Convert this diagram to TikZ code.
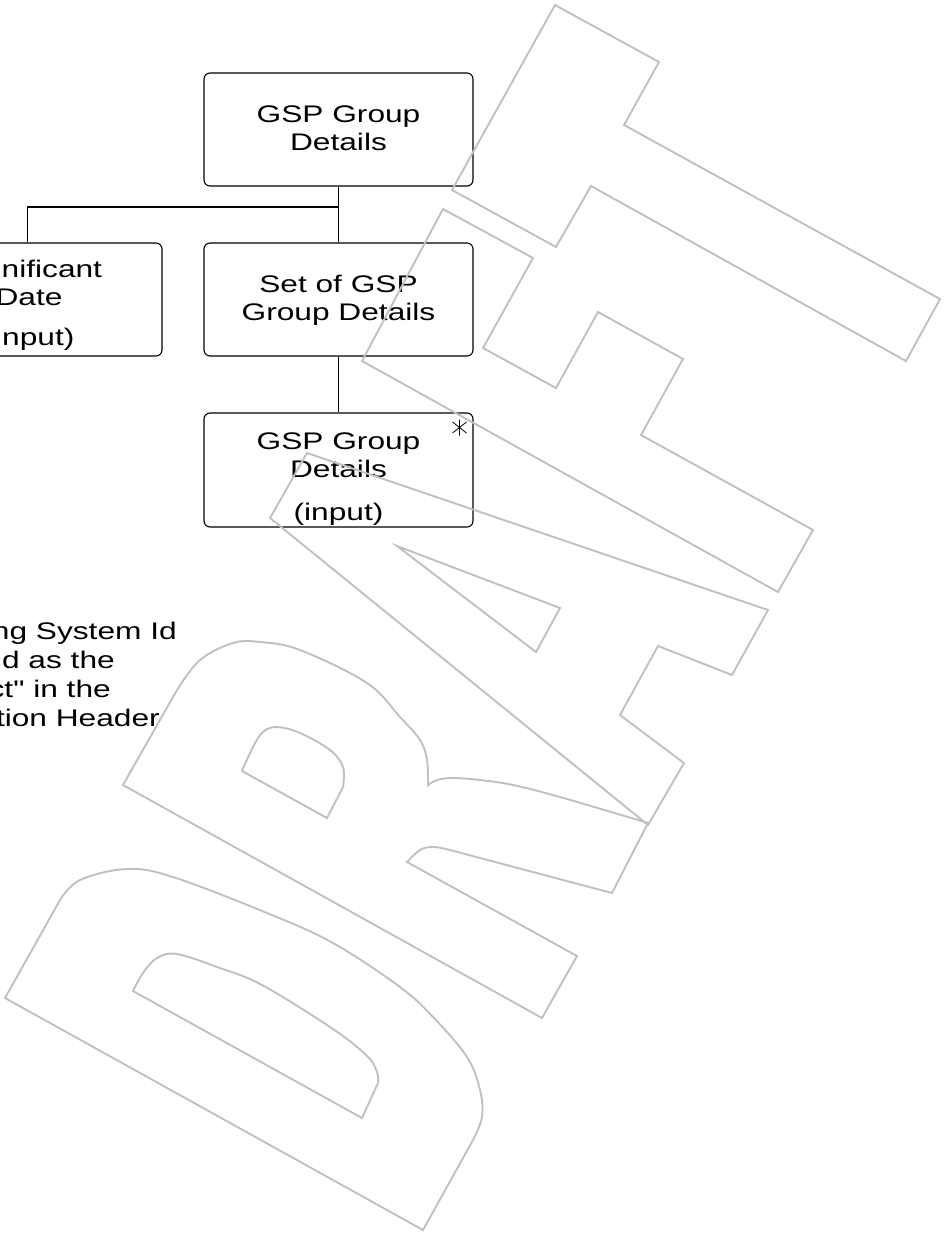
\documentclass[tikz,border=0pt]{standalone}
\usepackage{fontspec}
\setmainfont{Liberation Sans}[Ligatures=TeXOff]
\usepackage{graphicx}
\definecolor{wm}{RGB}{192,192,192}
\newcommand{\hs}[1]{\scalebox{1.32}[1]{#1}}
\newcommand{\txtblock}[1]{\hs{\begin{tabular}[t]{@{}c@{}}#1\end{tabular}}}
\begin{document}
\begin{tikzpicture}[x=1pt,y=-1pt,
  box/.style={draw, line width=1.1pt, rounded corners=6pt, minimum width=269pt, minimum height=113pt, inner sep=0pt},
  lbl/.style={anchor=base, inner sep=0pt, font=\fontsize{24}{28.5}\selectfont},
  notel/.style={anchor=base east, inner sep=0pt, font=\fontsize{24}{29}\selectfont},
  conn/.style={line width=1.1pt},
  wmark/.style={draw=wm, line width=1.9pt, line join=miter}]
\useasboundingbox (0,0) rectangle (943,1237);
\clip (0,0) rectangle (943,1237);
% boxes
\node[box] (top) at (338.5,129.5) {};
\node[box] (set) at (338.5,299.5) {};
\node[box] (left) at (27.5,299.5) {};
\node[box, minimum height=114pt] (bot) at (338.5,470) {};
% texts
\node[lbl] (topt) at (338.5,122) {\txtblock{GSP Group\\Details}};
\node[lbl] (sett) at (338.5,292) {\txtblock{Set of GSP\\Group Details}};
\node[lbl] (leftt) at (29,277) {\txtblock{Significant\\Date}};
\node[lbl] (lefti) at (29.5,345) {\hs{(input)}};
\node[lbl] (bott) at (338.5,449) {\txtblock{GSP Group\\Details}};
\node[lbl] (boti) at (338.5,520) {\hs{(input)}};
% note
\node[notel] (note1) at (177,639) {\hs{ng System Id}};
\node[notel] (note2) at (115,668) {\hs{d as the}};
\node[notel] (note3) at (111,697) {\hs{ct" in the}};
\node[notel] (note4) at (160,726) {\hs{tion Header}};
% connectors
\coordinate (j) at (338.5,207);
\draw[conn] (top.south) -- (set.north);
\draw[conn] (j) -| (left.north);
\draw[conn] (set.south) -- (bot.north);
% asterisk
\coordinate (ast) at (459.5,427.5);
\draw[line width=0.8pt] (ast) ++(0,-8) -- ++(0,16)
  (ast) ++(-7,-5.5) -- ++(14,11)
  (ast) ++(-7,5.5) -- ++(14,-11);
% watermark DRAFT
\draw[wmark] (555,5) -- (659,62) -- (624,125) -- (940,299) -- (906,361) -- (591,186) -- (556,247) -- (452,190) -- cycle;
\draw[wmark] (443,209) -- (533,258) -- (483,348) -- (556,388) -- (598,312) -- (683,359) -- (641,435) -- (813,530) -- (778,592) -- (362,361) -- cycle;
\draw[wmark] (307,453) -- (768,610) -- (732,675) -- (658,646) -- (620,715) -- (684,763) -- (648,825) -- (270,518) -- cycle;
\draw[wmark] (397,546) -- (560,608) -- (536,652) -- cycle;
\draw[wmark] (123,785) -- (177,690)
  -- plot[smooth, tension=0.6] coordinates {(177,690) (200,660) (233,643) (260,642) (300,650) (367,683) (400,717) (420,740) (427,760) (428,785)}
  -- plot[smooth, tension=0.6] coordinates {(428,785) (437,780) (453,778) (480,780) (513,785) (560,797) (648,823)}
  -- (612,893)
  -- plot[smooth, tension=0.6] coordinates {(612,893) (480,858) (450,850) (433,847) (420,850) (407,862)}
  -- (577,956) -- (542,1018) -- cycle;
\draw[wmark] (242,771) -- (327,818) -- (343,787)
  -- plot[smooth, tension=0.6] coordinates {(343,787) (343,767) (330,750) (300,733) (277,727) (263,732) (253,747) (242,771)} -- cycle;
\draw[wmark] (5,998) -- (423,1230) -- (473,1140)
  -- plot[smooth, tension=0.6] coordinates {(473,1140) (482,1117) (480,1090) (467,1057) (433,1017) (400,987) (333,943) (267,913) (173,877) (127,869) (80,880) (60,900)} -- cycle;
\draw[wmark] (133,991) -- (362,1118) -- (378,1083)
  -- plot[smooth, tension=0.6] coordinates {(378,1083) (377,1072) (367,1056) (333,1029) (262,985) (217,967) (177,954) (157,958) (143,973) (133,991)} -- cycle;
\end{tikzpicture}
\end{document}
